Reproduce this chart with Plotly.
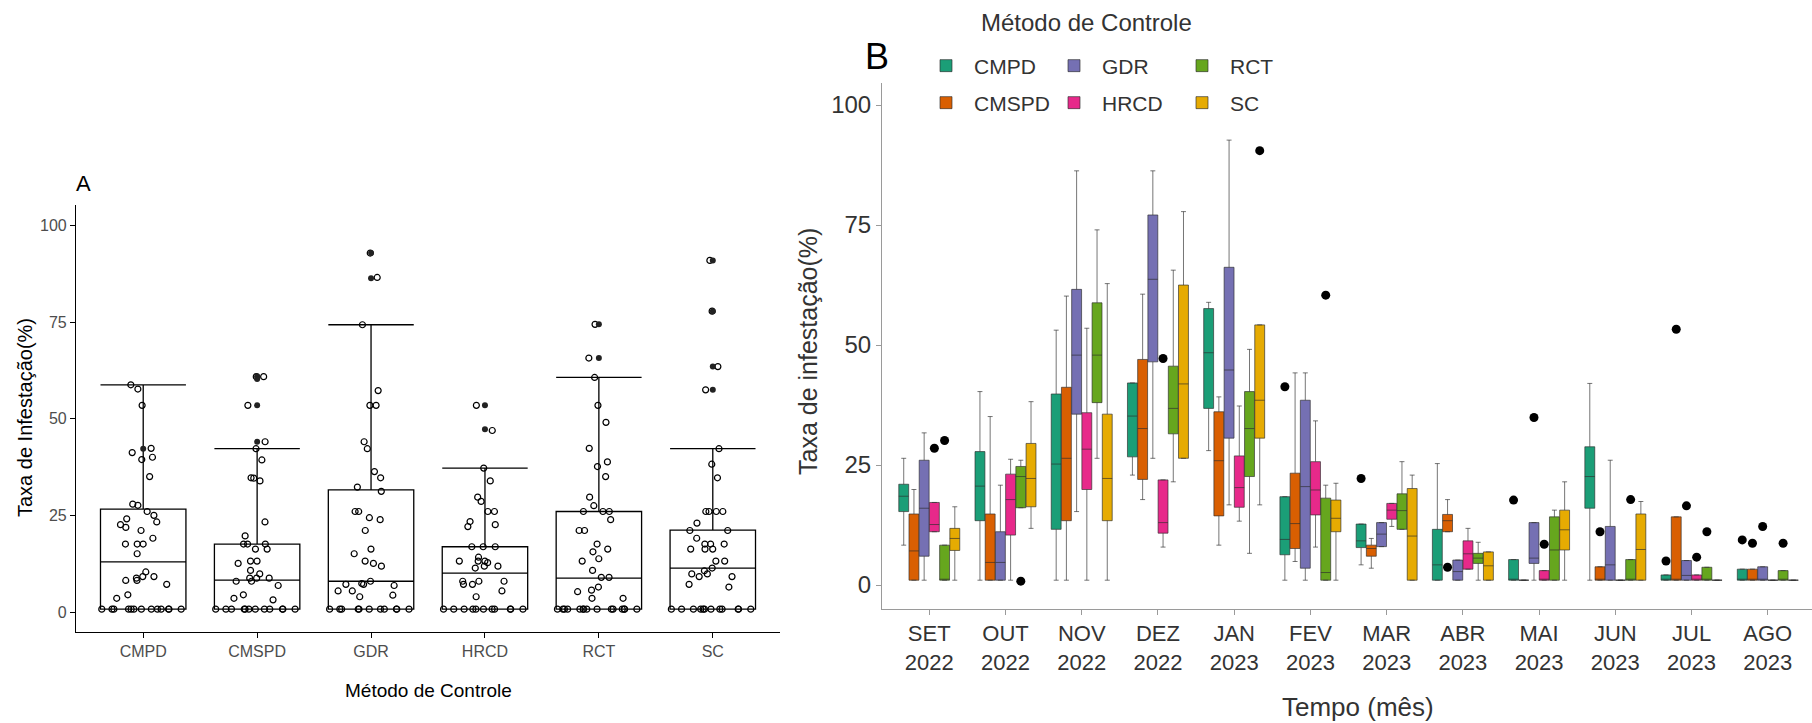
import plotly.graph_objects as go

FONT = "Liberation Sans, Arial, sans-serif"

methods = ["CMPD", "CMSPD", "GDR", "HRCD", "RCT", "SC"]
colors = ["#1B9E77", "#D95F02", "#7570B3", "#E7298A", "#66A61E", "#E6AB02"]
months = ["SET<br>2022", "OUT<br>2022", "NOV<br>2022", "DEZ<br>2022", "JAN<br>2023", "FEV<br>2023",
          "MAR<br>2023", "ABR<br>2023", "MAI<br>2023", "JUN<br>2023", "JUL<br>2023", "AGO<br>2023"]

# ---------------- Panel A: box statistics per method ----------------
A_lower = [0.9, 0.9, 0.9, 0.9, 0.9, 0.9]
A_q1 = [0.9, 0.9, 0.9, 0.9, 0.9, 0.9]
A_median = [13.1, 8.4, 8.1, 10.2, 8.9, 11.5]
A_q3 = [26.7, 17.7, 31.7, 17.0, 26.1, 21.3]
A_upper = [58.8, 42.3, 74.3, 37.3, 60.7, 42.3]

# observations (open circles)
A_pts_CMPD = [58.8, 42.4, 57.7, 53.5, 41.3, 40.1, 39.5, 35.1, 28.0, 27.7, 26.1, 25.1, 24.2, 23.4, 22.7,
              22.0, 21.2, 19.2, 17.7, 17.7, 17.7, 15.2, 10.5, 9.3, 9.3, 8.9, 8.3, 8.3, 7.3, 4.6, 3.7,
              0.9, 0.9, 0.9, 0.9, 0.9, 0.9, 0.9, 0.9, 0.9, 0.9, 0.9, 0.9, 0.9]
A_pts_CMSPD = [60.9, 60.9, 53.5, 44.1, 42.3, 39.4, 34.8, 34.7, 34.0, 23.4, 19.8, 17.7, 17.7, 17.7, 16.4,
               16.4, 13.3, 13.3, 12.7, 10.9, 10.0, 8.9, 8.9, 8.9, 8.1, 8.1, 7.0, 4.6, 3.7, 3.3,
               0.9, 0.9, 0.9, 0.9, 0.9, 0.9, 0.9, 0.9, 0.9, 0.9, 0.9, 0.9]
A_pts_GDR = [92.8, 86.5, 74.3, 57.3, 53.5, 53.5, 44.1, 42.3, 36.4, 34.8, 32.4, 31.3, 26.1, 26.1, 24.5,
             24.0, 21.2, 16.4, 15.2, 13.3, 12.7, 12.0, 8.1, 7.5, 7.3, 7.3, 7.0, 5.6, 5.6, 4.5, 4.1,
             0.9, 0.9, 0.9, 0.9, 0.9, 0.9, 0.9, 0.9, 0.9, 0.9, 0.9]
A_pts_HRCD = [53.5, 47.0, 37.3, 34.0, 29.8, 28.7, 26.1, 26.1, 23.5, 22.7, 22.2, 17.0, 17.0, 17.0, 14.3,
              13.3, 13.3, 13.3, 12.9, 12.0, 12.0, 11.5, 8.1, 8.1, 8.1, 7.3, 7.3, 5.6, 4.1,
              0.9, 0.9, 0.9, 0.9, 0.9, 0.9, 0.9, 0.9, 0.9, 0.9, 0.9]
A_pts_RCT = [74.4, 65.7, 60.7, 53.5, 49.1, 42.4, 38.9, 37.7, 35.1, 29.8, 27.6, 26.1, 26.1, 26.1, 24.0,
             21.2, 21.2, 17.7, 16.4, 15.7, 13.9, 13.3, 10.9, 9.1, 9.1, 6.6, 5.8, 5.4, 3.7, 3.7,
             0.9, 0.9, 0.9, 0.9, 0.9, 0.9, 0.9, 0.9, 0.9, 0.9, 0.9, 0.9, 0.9, 0.9, 0.9]
A_pts_SC = [90.9, 77.8, 63.5, 57.5, 42.3, 38.3, 34.8, 26.1, 26.1, 26.1, 26.1, 23.1, 21.2, 21.2, 19.2,
            17.7, 17.7, 17.7, 16.4, 16.4, 16.4, 13.3, 13.3, 11.5, 10.8, 10.0, 10.0, 9.3, 9.3, 7.3, 6.6,
            0.9, 0.9, 0.9, 0.9, 0.9, 0.9, 0.9, 0.9, 0.9, 0.9, 0.9, 0.9]
A_points = [A_pts_CMPD, A_pts_CMSPD, A_pts_GDR, A_pts_HRCD, A_pts_RCT, A_pts_SC]

# outliers / filled points drawn at box centre
A_out_CMPD = [42.3]
A_out_CMSPD = [61.0, 60.3, 53.5, 44.1]
A_out_GDR = [92.8, 86.3]
A_out_HRCD = [53.5, 47.3]
A_out_RCT = [74.4, 65.7]
A_out_SC = [90.9, 77.8, 63.5, 57.5]
A_outliers = [A_out_CMPD, A_out_CMSPD, A_out_GDR, A_out_HRCD, A_out_RCT, A_out_SC]

# ---------------- Panel B: monthly box stats (lower, q1, median, q3, upper) ----------------
B_CMPD = [(8.3, 15.3, 18.5, 21.0, 26.4), (1.0, 13.4, 20.6, 27.8, 40.3), (1.0, 11.6, 25.2, 39.8, 53.1),
          (22.9, 26.7, 35.2, 42.1, 42.1), (28.0, 36.8, 48.4, 57.6, 58.9), (1.0, 6.3, 9.5, 18.4, 18.4),
          (4.2, 7.8, 9.2, 12.7, 12.7), (1.0, 1.0, 4.2, 11.6, 25.3), (1.0, 1.0, 1.0, 5.3, 5.3),
          (1.0, 16.0, 22.6, 28.8, 42.0), (1.0, 1.0, 1.0, 2.1, 2.1), (1.0, 1.0, 1.0, 3.3, 3.3)]
B_CMSPD = [(1.0, 1.0, 7.1, 14.8, 19.9), (1.0, 1.0, 4.7, 14.8, 35.1), (1.0, 13.4, 26.4, 41.2, 60.2),
           (17.8, 22.0, 32.6, 47.0, 60.6), (8.3, 14.4, 25.9, 36.1, 39.2), (4.9, 7.6, 12.8, 23.3, 44.2),
           (3.5, 6.0, 7.6, 8.3, 9.7), (11.1, 11.1, 13.4, 14.7, 17.8), (1.0, 1.0, 1.0, 1.0, 1.0),
           (1.0, 1.0, 1.0, 3.8, 3.8), (1.0, 1.0, 1.0, 14.2, 14.2), (1.0, 1.0, 1.0, 3.3, 3.3)]
B_GDR = [(1.0, 6.0, 16.0, 26.0, 31.7), (1.0, 1.0, 4.7, 11.1, 20.8), (15.3, 35.6, 47.9, 61.6, 86.3),
         (26.4, 46.5, 63.7, 77.1, 86.3), (16.7, 30.6, 44.8, 66.2, 92.7), (1.0, 3.5, 20.5, 38.5, 44.2),
         (8.0, 8.0, 10.6, 13.0, 13.0), (1.0, 1.0, 2.8, 5.2, 5.2), (1.0, 4.5, 5.6, 13.0, 13.0),
         (1.0, 1.0, 4.2, 12.2, 26.0), (1.0, 1.0, 2.0, 5.1, 5.1), (1.0, 1.0, 1.0, 3.8, 3.8)]
B_HRCD = [(11.1, 11.1, 12.6, 17.2, 17.2), (1.0, 10.4, 17.8, 23.1, 26.2), (1.0, 19.9, 28.3, 35.9, 53.5),
          (7.9, 10.8, 13.0, 21.9, 21.9), (13.3, 16.2, 20.3, 26.9, 37.3), (7.9, 14.6, 19.8, 25.7, 34.2),
          (12.2, 13.7, 15.6, 17.0, 17.0), (3.3, 3.3, 6.5, 9.2, 11.8), (1.0, 1.0, 1.0, 3.0, 3.0),
          (1.0, 1.0, 1.0, 1.0, 1.0), (1.0, 1.0, 1.0, 2.1, 2.1), (1.0, 1.0, 1.0, 1.0, 1.0)]
B_RCT = [(1.0, 1.0, 1.0, 8.3, 8.3), (16.1, 16.1, 22.6, 24.7, 26.0), (26.4, 38.0, 47.9, 58.8, 74.0),
         (21.5, 31.5, 36.8, 45.6, 65.6), (6.6, 22.6, 32.6, 40.3, 49.1), (1.0, 1.0, 2.6, 18.1, 20.8),
         (11.6, 11.6, 15.5, 19.0, 25.7), (1.0, 4.5, 5.6, 6.6, 8.9), (1.0, 1.0, 7.3, 14.2, 15.6),
         (1.0, 1.0, 1.0, 5.3, 5.3), (1.0, 1.0, 1.0, 3.7, 3.7), (1.0, 1.0, 1.0, 3.0, 3.0)]
B_SC = [(1.0, 7.2, 9.7, 11.8, 16.3), (11.8, 16.3, 22.2, 29.5, 38.2), (1.0, 13.4, 22.2, 35.6, 62.8),
        (26.4, 26.4, 41.9, 62.5, 77.8), (16.7, 30.6, 38.5, 54.2, 54.2), (1.0, 11.1, 13.9, 17.7, 21.2),
        (1.0, 1.0, 10.2, 20.1, 22.9), (1.0, 1.0, 4.0, 6.9, 6.9), (1.0, 7.3, 11.5, 15.6, 21.5),
        (1.0, 1.0, 7.4, 14.8, 17.4), (1.0, 1.0, 1.0, 1.0, 1.0), (1.0, 1.0, 1.0, 1.0, 1.0)]
B_stats = [B_CMPD, B_CMSPD, B_GDR, B_HRCD, B_RCT, B_SC]

# outliers in panel B: month index, method, value
B_out_month = [0, 0, 1, 3, 4, 5, 5, 6, 7, 8, 8, 8, 9, 9, 10, 10, 10, 10, 10, 11, 11, 11, 11]
B_out_method = ["HRCD", "RCT", "RCT", "HRCD", "SC", "CMPD", "RCT", "CMPD", "CMSPD", "CMPD", "GDR", "HRCD",
                "CMSPD", "RCT", "CMPD", "CMSPD", "GDR", "HRCD", "RCT", "CMPD", "CMSPD", "GDR", "RCT"]
B_out_value = [28.5, 30.1, 0.8, 47.2, 90.5, 41.3, 60.4, 22.2, 3.7, 17.7, 34.9, 8.5,
               11.1, 17.8, 5.0, 53.3, 16.5, 5.8, 11.1, 9.4, 8.7, 12.2, 8.7]

DODGE = 0.134
BOXW = 0.13

fig = go.Figure()

# ---- Panel A ----
for m, pts in zip(methods, A_points):
    fig.add_trace(go.Box(
        x=[m] * len(pts), y=pts, boxpoints="all", jitter=1, pointpos=0, width=0.86,
        fillcolor="rgba(0,0,0,0)", line=dict(width=0, color="rgba(0,0,0,0)"),
        marker=dict(symbol="circle-open", size=6, color="black", line=dict(width=1.2, color="black")),
        xaxis="x", yaxis="y", showlegend=False, hoveron="points"))

fig.add_trace(go.Box(
    x=methods, lowerfence=A_lower, q1=A_q1, median=A_median, q3=A_q3, upperfence=A_upper,
    width=0.75, whiskerwidth=1, boxpoints=False, fillcolor="rgba(0,0,0,0)",
    line=dict(color="black", width=1.3), xaxis="x", yaxis="y", showlegend=False))

out_x, out_y = [], []
for m, vals in zip(methods, A_outliers):
    out_x += [m] * len(vals)
    out_y += vals
fig.add_trace(go.Scatter(x=out_x, y=out_y, mode="markers",
                         marker=dict(color="#222", size=6), xaxis="x", yaxis="y", showlegend=False))

# ---- Panel B ----
for j, (m, c, stats) in enumerate(zip(methods, colors, B_stats)):
    xs = [i + (j - 2.5) * DODGE for i in range(len(months))]
    fig.add_trace(go.Box(
        x=xs, lowerfence=[s[0] for s in stats], q1=[s[1] for s in stats], median=[s[2] for s in stats],
        q3=[s[3] for s in stats], upperfence=[s[4] for s in stats], width=BOXW, boxpoints=False,
        fillcolor=c, line=dict(color="rgba(45,45,45,0.65)", width=1), name=m,
        legend="legend" if j % 2 == 0 else "legend2",
        xaxis="x2", yaxis="y2"))

bx = [mi + (methods.index(me) - 2.5) * DODGE for mi, me in zip(B_out_month, B_out_method)]
fig.add_trace(go.Scatter(x=bx, y=B_out_value, mode="markers", marker=dict(color="black", size=9),
                         xaxis="x2", yaxis="y2", showlegend=False))

W, H = 1812, 723
px_x = lambda p: p / W
px_y = lambda p: 1 - p / H

axA = dict(showline=True, linecolor="black", linewidth=1.2, ticks="outside", ticklen=5, tickcolor="black",
           tickfont=dict(size=16, color="#4d4d4d"), showgrid=False, zeroline=False)
axB = dict(showline=True, linecolor="#9a9a9a", linewidth=1, ticks="outside", ticklen=5, tickcolor="#9a9a9a",
           showgrid=False, zeroline=False)

legend_common = dict(orientation="h", xanchor="left", yanchor="middle", bgcolor="rgba(0,0,0,0)",
                     font=dict(size=21, color="#333"), entrywidth=67, entrywidthmode="pixels",
                     itemwidth=46, traceorder="normal")


def ann(text, x, y, size, color="black", angle=0):
    return dict(text=text, x=px_x(x), y=px_y(y), xref="paper", yref="paper", showarrow=False,
                xanchor="center", yanchor="middle", textangle=angle, font=dict(size=size, color=color))


fig.update_layout(
    width=W, height=H, margin=dict(l=0, r=0, t=0, b=0),
    paper_bgcolor="white", plot_bgcolor="white", font=dict(family=FONT, color="black"),
    boxmode="overlay",
    xaxis=dict(domain=[px_x(76), px_x(780)], anchor="y", type="category", categoryorder="array",
               categoryarray=methods, range=[-0.59, 5.59], **axA),
    yaxis=dict(domain=[px_y(632), px_y(205)], anchor="x", range=[-5, 105.2],
               tickvals=[0, 25, 50, 75, 100], **axA),
    xaxis2=dict(domain=[px_x(882), 1.0], anchor="y2", range=[-0.62, 11.58],
                tickvals=list(range(len(months))), ticktext=months,
                tickfont=dict(size=22, color="#333"), **axB),
    yaxis2=dict(domain=[px_y(609), px_y(83)], anchor="x2", range=[-5, 104.6],
                tickvals=[0, 25, 50, 75, 100], tickfont=dict(size=24, color="#333"), **axB),
    legend=dict(x=px_x(918), y=px_y(66), **legend_common),
    legend2=dict(x=px_x(918), y=px_y(103), **legend_common),
    annotations=[
        ann("A", 83, 183, 22),
        ann("Taxa de Infestação(%)", 25, 418, 20, angle=-90),
        ann("Método de Controle", 428, 690, 19),
        ann("B", 877, 57, 36),
        ann("Método de Controle", 1086, 22, 24, "#333"),
        ann("Taxa de infestação(%)", 808, 352, 25, "#333", angle=-90),
        ann("Tempo (mês)", 1358, 707, 26, "#333"),
    ],
)

fig.write_html("out.html")
